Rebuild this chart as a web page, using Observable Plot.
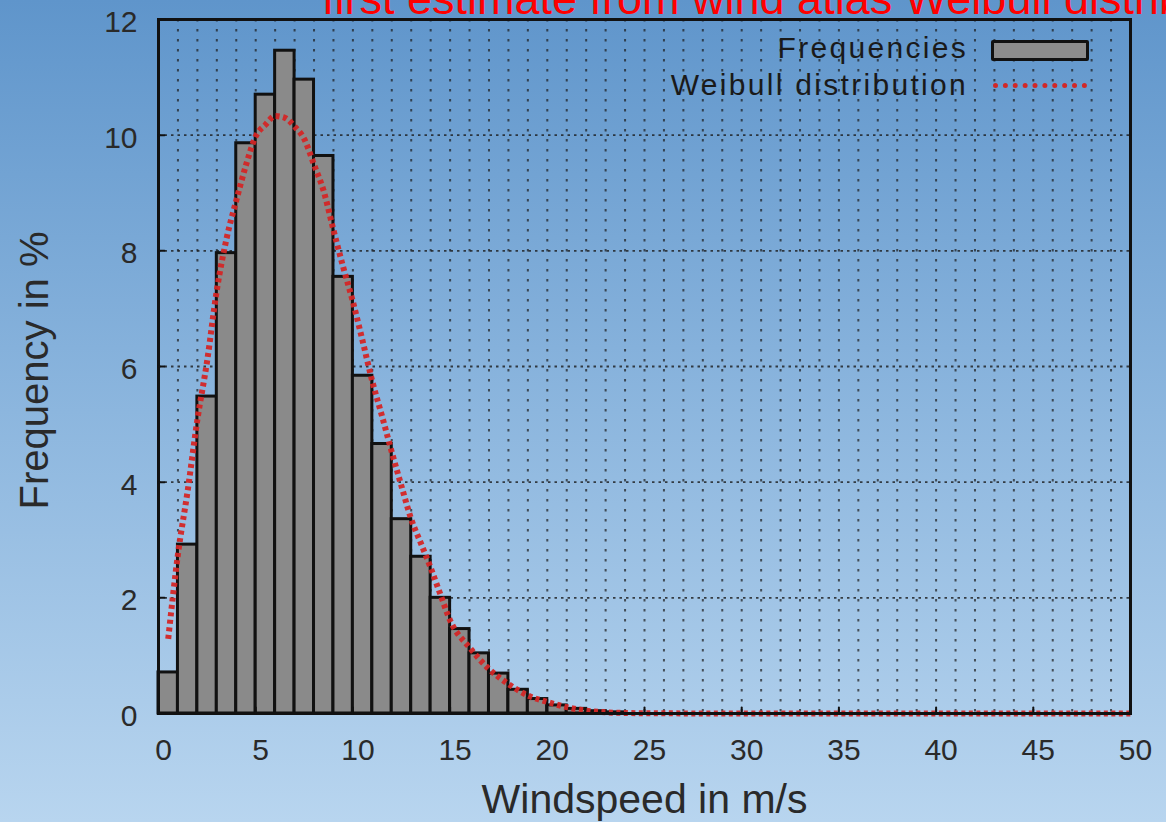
<!DOCTYPE html>
<html>
<head>
<meta charset="utf-8">
<script src="https://cdn.jsdelivr.net/npm/d3@7"></script>
<script src="https://cdn.jsdelivr.net/npm/@observablehq/plot@0.6"></script>
<style>
  html, body { margin: 0; padding: 0; width: 1166px; height: 822px; overflow: hidden; }
  body { background: linear-gradient(to bottom, #5f95cb 0%, #8cb6de 50%, #b8d5ef 100%); position: relative; font-family: "Liberation Sans", Arial, sans-serif; }
  #title { position: absolute; left: 322px; top: -24px; font-size: 45px; line-height: 45px; color: #ff0000; white-space: nowrap; font-family: "Liberation Sans", sans-serif; }
  #chart { position: absolute; left: 0; top: 0; }
  .leg { position: absolute; font-size: 30px; color: #1a1a1a; letter-spacing: 2.3px; white-space: nowrap; text-align: right; width: 400px; line-height: 30px; }
  #sw1 { position: absolute; left: 991px; top: 40px; width: 92px; height: 15px; background: #8c8c8c; border: 3px solid #111; border-radius: 2px; }
  #sw2 { position: absolute; left: 993px; top: 83px; width: 94px; height: 0; border-top: 5px dotted #d02828; }
</style>
</head>
<body>
<div id="title">first estimate from wind atlas Weibull distribution</div>
<div id="chart"></div>
<div class="leg" style="left:568px; top:33px;">Frequencies</div>
<div class="leg" style="left:568px; top:70px;">Weibull distribution</div>
<div id="sw1"></div>
<div id="sw2"></div>
<script>
// Histogram bins (left edge, m/s) and frequencies (%)
const binStart = [0,1,2,3,4,5,6,7,8,9,10,11,12,13,14,15,16,17,18,19,20,21,22,23];
const binFreq  = [0.71,2.92,5.48,7.96,9.86,10.70,11.46,10.96,9.64,7.55,5.84,4.66,3.36,2.71,2.00,1.46,1.04,0.69,0.41,0.25,0.14,0.08,0.04,0.02];

// Weibull curve
const weibullX = [0.5,1,1.5,2,2.5,3,3.5,4,4.5,5,5.5,6,6.5,7,7.5,8,8.5,9,9.5,10,10.5,11,11.5,12,12.5,13,13.5,14,14.5,15,16,17,18,19,20,21,22,23,25,30,40,50];
const weibullY = [1.29,2.75,3.85,5.08,6.09,7.32,8.21,8.87,9.48,9.98,10.18,10.33,10.30,10.15,9.93,9.49,9.03,8.36,7.72,7.12,6.44,5.74,5.14,4.52,3.93,3.36,2.94,2.52,2.06,1.61,1.14,0.77,0.51,0.31,0.20,0.11,0.05,0.02,0.005,0,0,0];

// Tick labels
const xTicks = [0,5,10,15,20,25,30,35,40,45,50];
const yTicks = [0,2,4,6,8,10,12];
const xGrid = d3.range(1, 50);
const yGrid = [2,4,6,8,10];

const bins = binStart.map((s, i) => ({x1: s, x2: s + 1, f: binFreq[i]}));
const curve = weibullX.map((x, i) => ({x, y: weibullY[i]}));

const tickShape = {draw(context, l) { context.moveTo(0, 0); context.lineTo(0, -l); }};

const plot = Plot.plot({
  width: 1166,
  height: 822,
  marginLeft: 158,
  marginRight: 36,
  marginTop: 19,
  marginBottom: 109,
  style: {background: "transparent", fontFamily: "Liberation Sans, Arial, sans-serif", color: "#2a2a2a"},
  x: {domain: [0, 50]},
  y: {domain: [0, 12]},
  marks: [
    Plot.ruleX(xGrid, {stroke: "#1a1a1a", strokeWidth: 2, strokeDasharray: "2.5,7.5", strokeOpacity: 0.7}),
    Plot.ruleY(yGrid, {stroke: "#1a1a1a", strokeWidth: 1.8, strokeDasharray: "2.5,4", strokeOpacity: 0.8}),
    Plot.rectY(bins, {x1: "x1", x2: "x2", y: "f", fill: "#8a8a8a", stroke: "#111", strokeWidth: 3}),
    Plot.line(curve, {x: "x", y: "y", stroke: "#d42626", strokeWidth: 6, strokeDasharray: "4,3.5", strokeLinecap: "butt", strokeOpacity: 0.95, curve: "monotone-x"}),
    Plot.frame({stroke: "#111", strokeWidth: 3}),
    Plot.vector(xTicks, {x: d => d, frameAnchor: "bottom", length: 6, rotate: 0, anchor: "start", shape: tickShape, stroke: "#111", strokeWidth: 2}),
    Plot.vector(yTicks, {y: d => d, frameAnchor: "left", length: 6, rotate: 90, anchor: "start", shape: tickShape, stroke: "#111", strokeWidth: 2}),
    Plot.axisX({ticks: xTicks, tickSize: 0, tickPadding: 25, fontSize: 30, dx: 5, label: null, tickFormat: d => String(d)}),
    Plot.axisY({ticks: yTicks, tickSize: 0, tickPadding: 21, fontSize: 30, dy: 3, label: null, tickFormat: d => String(d)}),
    Plot.text(["Windspeed in m/s"], {frameAnchor: "bottom", dy: 86, fontSize: 41, fill: "#2a2a2a", lineAnchor: "middle", textAnchor: "middle"}),
    Plot.text(["Frequency in %"], {frameAnchor: "left", rotate: -90, dx: -123, dy: 4, fontSize: 40, fill: "#2a2a2a", lineAnchor: "middle", textAnchor: "middle"})
  ]
});
document.getElementById("chart").appendChild(plot);
</script>
</body>
</html>
